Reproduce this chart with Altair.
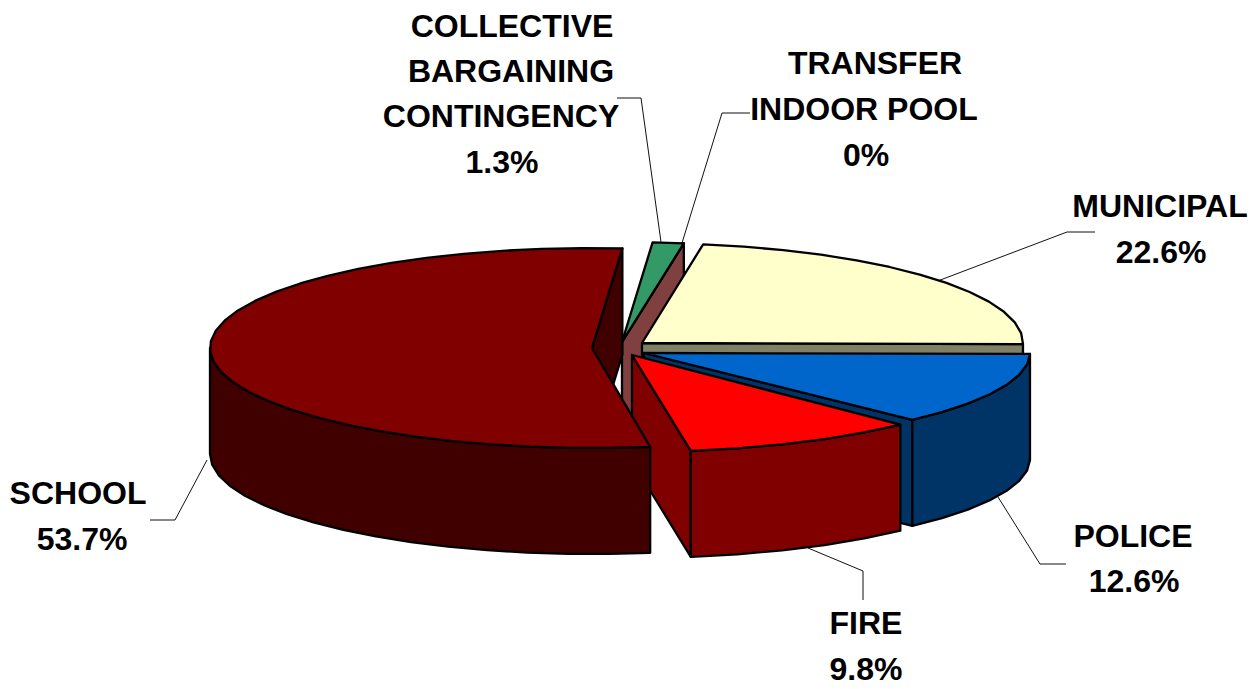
import math
import altair as alt

# Budget shares in percent, counter-clockwise from the east side of the pie
slices = ["MUNICIPAL", "TRANSFER", "COLLECTIVE", "SCHOOL", "FIRE", "POLICE"]
shares = [22.6, 0.0, 1.3, 53.7, 9.8, 12.6]

# Top, cut-face and rim colours of each slice
top_colors = ["#FFFFCC", "#FF8080", "#339966", "#800000", "#FF0000", "#0066CC"]
cut_colors = ["#808066", "#804040", "#1A4D33", "#400000", "#800000", "#003366"]
rim_colors = ["#808066", "#804040", "#1A4D33", "#400000", "#800000", "#003366"]

# Pie layout: exploded apex of each slice, ellipse radii, extrusion depth
apex_x = [642, 622, 622, 592, 632, 644]
apex_y = [343, 342, 342, 348, 355, 353]
radius_x = [381, 385, 385, 382, 386, 386]
radius_y = [100, 100, 100, 100, 97, 93]
depth = 106
start_angle = -0.6
facet_degrees = 6

# Label lines with their anchors
label_lines = ["COLLECTIVE", "BARGAINING", "CONTINGENCY", "1.3%",
               "TRANSFER", "INDOOR POOL", "0%",
               "MUNICIPAL", "22.6%", "POLICE", "12.6%",
               "FIRE", "9.8%", "SCHOOL", "53.7%"]
label_x = [512, 511, 501, 502, 875, 864, 866, 1160, 1161, 1133, 1134, 866, 866, 78, 82]
label_y = [27, 72, 117, 163, 64, 110, 156, 207, 253, 537, 582, 624, 670, 494, 540]

# Leader lines from each label to its slice
leaders = [
    [[617, 98], [641, 98], [661, 242]],
    [[750, 113], [722, 113], [682, 243]],
    [[1095, 232], [1067, 232], [935, 282]],
    [[1066, 564], [1040, 564], [998, 497]],
    [[863, 600], [863, 571], [808, 548]],
    [[150, 520], [175, 520], [207, 460]],
]

# Slice boundaries in degrees, accumulated from the shares
total = sum(shares)
bounds = {}
angle = start_angle
for name, share in zip(slices, shares):
    bounds[name] = (angle, angle + share / total * 360)
    angle += share / total * 360


def arc(i, t0, t1, dy=0):
    steps = max(1, int(abs(t1 - t0) / facet_degrees))
    pts = []
    for k in range(steps + 1):
        t = math.radians(t0 + (t1 - t0) * k / steps)
        pts.append([apex_x[i] + radius_x[i] * math.cos(t),
                    apex_y[i] - radius_y[i] * math.sin(t) + dy])
    return pts


def feature(pts, fill):
    ring = pts + [pts[0]]
    return {"type": "Feature", "properties": {"fill": fill},
            "geometry": {"type": "Polygon", "coordinates": [ring]}}


def top(i):
    t0, t1 = bounds[slices[i]]
    return feature([[apex_x[i], apex_y[i]]] + arc(i, t0, t1), top_colors[i])


def cut(i, t):
    p = arc(i, t, t)[0]
    a = [apex_x[i], apex_y[i]]
    return feature([a, p, [p[0], p[1] + depth], [a[0], a[1] + depth]], cut_colors[i])


def rim(i, t0, t1):
    return feature(arc(i, t0, t1) + arc(i, t1, t0, depth), rim_colors[i])


MUN, TRA, COL, SCH, FIR, POL = range(6)
b = [bounds[s] for s in slices]

# Painted from back to front; each slice gets the cut face that looks
# toward the viewer, then its outer rim, then its top.
shapes = [
    cut(TRA, b[TRA][0]), top(TRA),
    top(COL),
    cut(MUN, b[MUN][0]), top(MUN),
    cut(POL, b[POL][0]), rim(POL, b[POL][0], b[POL][1]), top(POL),
    cut(FIR, b[FIR][0]), rim(FIR, b[FIR][0], b[FIR][1]), top(FIR),
    cut(SCH, b[SCH][0]), rim(SCH, 180, b[SCH][1]), top(SCH),
]
leader_features = [
    {"type": "Feature", "properties": {},
     "geometry": {"type": "LineString", "coordinates": line}}
    for line in leaders
]

pixels = dict(type="identity", scale=1, translate=[0, 0])

pie = alt.Chart(alt.Data(values=shapes)).mark_geoshape(
    stroke="black", strokeWidth=2.3, strokeJoin="round"
).encode(
    fill=alt.Fill("properties.fill:N", scale=None)
).project(**pixels)

lines = alt.Chart(alt.Data(values=leader_features)).mark_geoshape(
    filled=False, stroke="#111111", strokeWidth=1
).project(**pixels)

labels = alt.Chart(alt.Data(values=[
    {"text": t, "x": x, "y": y} for t, x, y in zip(label_lines, label_x, label_y)
])).mark_text(
    font="Liberation Sans", fontWeight="bold", fontSize=32,
    color="black", align="center", baseline="middle"
).encode(
    x=alt.X("x:Q", scale=None, axis=None),
    y=alt.Y("y:Q", scale=None, axis=None),
    text="text:N",
)

chart = alt.layer(lines, pie, labels).properties(
    width=1251, height=689, padding=0, autosize="none", background="white"
).configure_view(stroke=None)

chart.save("out.html", embed_options={"renderer": "svg", "actions": False})
